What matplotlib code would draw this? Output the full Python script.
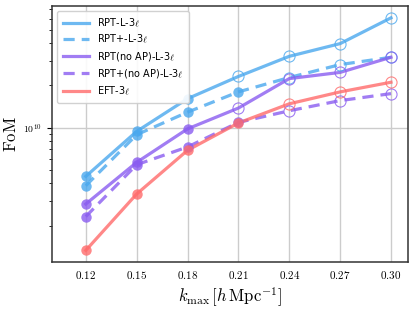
import numpy as np
import matplotlib.pyplot as plt
from matplotlib.ticker import FixedLocator, FuncFormatter, LogLocator, NullFormatter

plt.rcParams['mathtext.fontset'] = 'cm'

# k_max values
kmax = [0.12, 0.15, 0.18, 0.21, 0.24, 0.27, 0.30]
kmax_labels = ['0.12', '0.15', '0.18', '0.21', '0.24', '0.27', '0.30']

# FoM values
fom_rpt = [4.49e9, 9.4e9, 1.61e10, 2.32e10, 3.23e10, 3.98e10, 6.08e10]
fom_rpt_plus = [3.85e9, 8.9e9, 1.29e10, 1.80e10, 2.28e10, 2.82e10, 3.18e10]
fom_rpt_noap = [2.85e9, 5.65e9, 9.8e9, 1.38e10, 2.24e10, 2.48e10, 3.18e10]
fom_rpt_plus_noap = [2.32e9, 5.44e9, 7.28e9, 1.09e10, 1.32e10, 1.56e10, 1.75e10]
fom_eft = [1.33e9, 3.36e9, 6.89e9, 1.08e10, 1.48e10, 1.80e10, 2.11e10]

# index from which the markers are drawn open
open_from = {
    'RPT-L-3$\\ell$': 3,
    'RPT+-L-3$\\ell$': 4,
    'RPT(no AP)-L-3$\\ell$': 3,
    'RPT+(no AP)-L-3$\\ell$': 4,
    'EFT-3$\\ell$': 4,
}

series = [
    ('RPT-L-3$\\ell$', fom_rpt, '#4aa8ee', '-'),
    ('RPT+-L-3$\\ell$', fom_rpt_plus, '#4aa8ee', '--'),
    ('RPT(no AP)-L-3$\\ell$', fom_rpt_noap, '#8a5cf0', '-'),
    ('RPT+(no AP)-L-3$\\ell$', fom_rpt_plus_noap, '#8a5cf0', '--'),
    ('EFT-3$\\ell$', fom_eft, '#ff6b6b', '-'),
]

fig = plt.figure(figsize=(4.15, 3.10), dpi=100)
ax = fig.add_axes([0.125, 0.155, 0.858, 0.826])

for label, vals, col, ls in series:
    n = open_from[label]
    ax.plot(kmax, vals, color=col, ls=ls, lw=2.3, alpha=0.8, label=label,
            dashes=(3.5, 2.2) if ls == '--' else (None, None), zorder=3)
    ax.plot(kmax[:n], vals[:n], 'o', color=col, ms=7.5, alpha=0.8, mec='none', zorder=4)
    ax.plot(kmax[n:], vals[n:], 'o', mfc='none', mec=col, ms=8, mew=0.8, alpha=0.8, zorder=4)

ax.set_yscale('log')
ax.set_xlim(0.10, 0.31)
ax.set_ylim(1.1e9, 7.4e10)

ax.xaxis.set_major_locator(FixedLocator(kmax))
ax.set_xticklabels(['$' + s + '$' for s in kmax_labels], fontsize=8)
ax.yaxis.set_major_locator(LogLocator(base=10))
ax.yaxis.set_major_formatter(FuncFormatter(lambda v, p: r'$10^{%d}$' % round(np.log10(v))))
ax.yaxis.set_minor_formatter(NullFormatter())
ax.tick_params(axis='y', which='major', labelsize=7, length=3.5, width=0.8)
ax.tick_params(axis='y', which='minor', length=2, width=0.6)
ax.tick_params(axis='x', length=0, pad=5)

ax.grid(True, which='major', color='#cccccc', lw=1.0, zorder=0)
for sp in ax.spines.values():
    sp.set_color('#333333')
    sp.set_linewidth(1.1)

ax.set_xlabel(r'$k_{\rm max}\,[h\,{\rm Mpc}^{-1}]$', fontsize=12, labelpad=3)
ax.set_ylabel(r'${\rm FoM}$', fontsize=12)
ax.yaxis.set_label_coords(-0.09, 0.5)

ax.legend(loc='upper left', fontsize=7, handlelength=2.7, labelspacing=0.45,
          borderpad=0.6, handletextpad=0.8, framealpha=0.9, edgecolor='#cccccc')

fig.savefig('out.png', dpi=100)
